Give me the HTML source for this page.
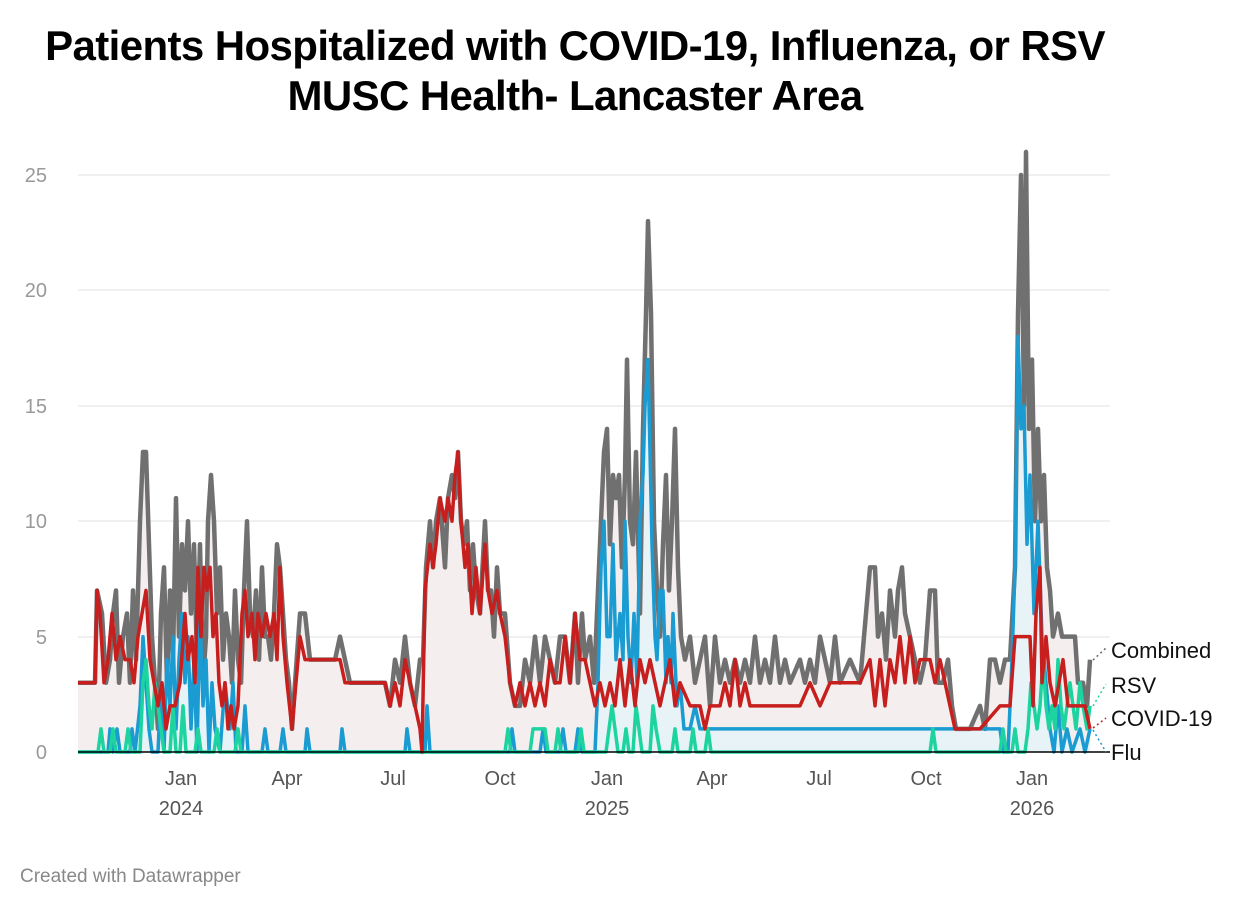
<!DOCTYPE html>
<html><head><meta charset="utf-8"><style>
body{margin:0;background:#fff;width:1240px;height:908px;overflow:hidden;font-family:"Liberation Sans",sans-serif}
.t{position:absolute;left:0;width:1150px;text-align:center;font-weight:bold;font-size:42px;color:#000;letter-spacing:-0.6px;white-space:nowrap}
</style></head><body>
<div class="t" style="top:22px">Patients Hospitalized with COVID-19, Influenza, or RSV</div>
<div class="t" style="top:72px">MUSC Health- Lancaster Area</div>
<svg id="s" width="1240" height="908" style="position:absolute;left:0;top:0" font-family="Liberation Sans, sans-serif">
<g stroke="#e2e2e2" stroke-width="1">
<line x1="78" x2="1110" y1="637" y2="637"/><line x1="78" x2="1110" y1="521" y2="521"/>
<line x1="78" x2="1110" y1="406" y2="406"/><line x1="78" x2="1110" y1="290" y2="290"/><line x1="78" x2="1110" y1="175" y2="175"/>
</g>
<g fill="#999" font-size="20" text-anchor="end">
<text x="47" y="759">0</text><text x="47" y="644">5</text><text x="47" y="528">10</text><text x="47" y="413">15</text><text x="47" y="297">20</text><text x="47" y="182">25</text>
</g>
<g fill="#555" font-size="20" text-anchor="middle">
<text x="181" y="785">Jan</text><text x="181" y="815">2024</text><text x="287" y="785">Apr</text><text x="393" y="785">Jul</text><text x="500" y="785">Oct</text>
<text x="607" y="785">Jan</text><text x="607" y="815">2025</text><text x="712" y="785">Apr</text><text x="819" y="785">Jul</text><text x="926" y="785">Oct</text>
<text x="1032" y="785">Jan</text><text x="1032" y="815">2026</text>
</g>
<g id="d"></g>
<line x1="78" x2="1110" y1="752" y2="752" stroke="#000" stroke-width="1.5"/>
<g font-size="22" fill="#111">
<text x="1111" y="658">Combined</text><text x="1111" y="693">RSV</text><text x="1111" y="726">COVID-19</text><text x="1111" y="760">Flu</text>
</g>
<g stroke-width="1.5" stroke-dasharray="2,3">
<line x1="1093" y1="660" x2="1106" y2="648" stroke="#666"/>
<line x1="1093" y1="706" x2="1106" y2="684" stroke="#1dd3a0"/>
<line x1="1093" y1="728" x2="1106" y2="718" stroke="#c71e1e"/>
<line x1="1093" y1="730" x2="1106" y2="752" stroke="#1a9bd1"/>
</g>
<text x="20" y="882" font-size="19" fill="#888">Created with Datawrapper</text>
</svg>
<script>
function Y(v){return 752-v*23.08}
function pts(a){var o=[];for(var i=0;i<a.length;i+=2){o.push(a[i]+','+Y(a[i+1]));}return o.join(' ');}
var C=[78,3,95,3,97,7,102,6,106,3,110,4,113,6,116,7,119,3,123,5,127,6,130,3,133,7,136,4,140,10,143,13,146,13,149,9,152,5,155,3,158,1,161,6,164,8,167,3,170,7,173,4,176,11,179,5,182,9,185,7,188,10,191,6,194,9,197,4,200,9,203,3,206,5,208,10,211,12,214,10,217,6,220,8,223,4,226,6,229,5,232,3,235,7,238,4,241,3,244,7,247,10,250,6,253,5,256,7,259,4,262,8,265,5,268,5,271,4,274,6,277,9,280,8,283,6,286,4,289,3,292,1,295,3,300,6,305,6,310,4,320,4,330,4,335,4,340,5,345,4,350,3,380,3,385,3,390,2,395,4,400,3,405,5,410,3,415,2,420,4,423,4,426,8,430,10,433,8,436,10,440,11,445,8,448,11,452,12,455,11,458,13,461,10,464,9,467,10,470,7,473,9,476,7,480,6,485,10,488,7,491,7,494,5,497,8,500,6,505,6,510,3,515,2,520,2,525,4,530,3,535,5,540,3,545,5,550,4,555,3,560,5,565,5,570,3,575,6,578,3,582,6,585,4,590,5,594,3,598,7,601,10,604,13,607,14,610,9,613,12,616,11,619,12,622,8,625,12,627,17,630,10,633,9,636,13,640,6,643,14,646,19,648,23,651,19,654,10,657,7,660,5,663,9,666,12,669,7,672,10,675,14,678,8,681,5,685,4,690,5,695,3,700,4,705,5,710,2,715,5,720,3,725,4,730,3,735,4,740,3,745,4,750,3,755,5,760,3,765,4,770,3,775,5,780,3,785,4,790,3,800,4,805,3,810,4,815,3,820,5,825,4,830,3,835,5,840,3,850,4,860,3,870,8,875,8,878,5,882,6,886,4,890,7,895,5,898,7,902,8,905,6,910,5,915,4,920,3,925,4,930,7,935,7,938,3,943,3,948,4,952,2,956,1,960,1,970,1,980,2,985,1,990,4,995,4,1000,3,1005,4,1010,4,1015,8,1018,19,1021,25,1024,15,1026,26,1029,14,1032,17,1035,10,1038,14,1041,10,1044,12,1047,8,1050,7,1053,5,1058,6,1062,5,1068,5,1075,5,1078,3,1083,3,1087,2,1090,4];
var R=[78,3,95,3,97,7,100,6,104,3,108,4,112,6,116,4,120,5,125,4,130,4,134,3,138,5,142,6,146,7,150,4,154,3,158,2,162,3,166,1,170,2,175,2,180,3,185,6,188,4,192,5,195,3,198,8,201,5,204,8,207,7,210,8,213,5,216,6,219,3,222,2,225,3,228,1,231,2,234,1,238,2,242,6,245,7,248,5,252,6,255,4,258,6,262,5,266,6,270,5,274,6,277,4,280,8,283,5,287,3,292,1,296,3,300,5,305,4,310,4,320,4,335,4,340,4,345,3,380,3,385,3,390,2,395,3,400,2,405,4,410,3,415,2,420,1,422,0,425,7,430,9,433,8,436,9,440,11,445,10,448,11,452,10,455,12,458,13,461,10,465,8,468,9,472,6,476,8,480,6,485,9,488,7,492,6,497,7,500,6,505,5,510,3,515,2,520,3,525,2,530,3,535,2,540,3,545,2,550,4,555,3,560,3,565,5,570,3,575,6,580,4,585,4,590,3,595,2,600,3,605,2,610,3,615,2,620,4,625,2,630,4,635,2,640,4,645,3,650,4,655,3,660,2,665,3,670,4,675,2,680,3,690,2,700,2,705,1,710,2,720,2,725,3,730,2,735,4,740,2,745,3,750,2,760,2,800,2,810,3,820,2,830,3,860,3,870,4,875,2,880,4,885,2,890,4,895,3,900,5,905,3,910,5,915,3,920,4,930,4,935,3,940,4,945,3,950,2,955,1,980,1,1000,2,1010,2,1015,5,1030,5,1033,2,1036,6,1040,8,1042,3,1046,5,1050,3,1055,2,1063,4,1068,2,1075,2,1085,2,1090,1];
var F=[78,0,108,0,110,1,113,0,117,1,120,0,130,0,132,1,135,0,140,2,143,5,146,3,149,1,152,0,158,0,161,3,164,0,167,4,170,2,173,5,176,1,179,4,182,6,185,3,188,5,191,1,194,4,197,0,200,6,203,2,206,4,209,0,212,3,215,1,220,0,225,3,230,1,233,3,236,0,242,0,245,2,248,0,262,0,265,1,268,0,280,0,283,1,286,0,305,0,307,1,310,0,340,0,342,1,345,0,405,0,407,1,410,0,425,0,427,2,430,0,510,0,512,1,515,0,540,0,543,1,546,0,560,0,563,1,566,0,575,0,578,1,582,0,595,0,598,3,601,8,604,10,607,5,610,5,613,9,616,4,620,6,623,4,625,10,628,5,631,3,634,6,637,3,640,10,643,12,645,15,648,17,652,9,655,5,657,4,660,7,663,7,666,3,668,5,671,3,673,6,677,2,680,3,684,1,690,1,695,2,700,1,1000,1,1003,0,1008,0,1012,4,1015,8,1018,18,1021,14,1024,15,1027,9,1030,12,1034,6,1038,10,1042,5,1046,3,1050,1,1054,0,1058,2,1062,0,1067,1,1072,0,1080,1,1085,0,1090,1];
var G=[78,0,98,0,101,1,104,0,110,0,113,1,116,0,125,0,128,1,131,0,140,0,143,3,146,4,149,2,152,1,155,3,158,2,161,1,164,0,170,0,173,2,176,0,180,0,183,2,186,0,195,0,198,1,201,0,214,0,217,1,220,0,235,0,238,1,241,0,505,0,508,1,511,0,530,0,533,1,545,1,548,0,555,0,558,1,561,0,578,0,581,1,584,0,606,0,609,1,612,2,615,1,618,0,623,0,626,1,629,0,633,0,636,2,639,1,642,0,650,0,653,2,656,1,660,0,672,0,675,1,678,0,690,0,693,1,696,0,705,0,708,1,711,0,930,0,933,1,936,0,1000,0,1003,1,1006,0,1012,0,1015,1,1018,0,1025,0,1028,1,1031,3,1034,2,1037,1,1040,2,1043,4,1046,2,1049,1,1052,2,1055,1,1058,4,1061,2,1064,1,1067,2,1070,3,1073,2,1076,1,1080,3,1083,2,1087,1,1090,2];
var d=document.getElementById('d'),ns='http://www.w3.org/2000/svg';
function add(tag,attrs){var e=document.createElementNS(ns,tag);for(var k in attrs)e.setAttribute(k,attrs[k]);d.appendChild(e);}
add('polygon',{points:'78,752 '+pts(C)+' 1090,752',fill:'#f5eeee'});
add('polygon',{points:'78,752 '+pts(F)+' 1090,752',fill:'#e8f3f7'});
add('polyline',{points:pts(C),fill:'none',stroke:'#707070','stroke-width':4.5,'stroke-linejoin':'round'});
add('polyline',{points:pts(F),fill:'none',stroke:'#1a9bd1','stroke-width':3.5,'stroke-linejoin':'round'});
add('polyline',{points:pts(G),fill:'none',stroke:'#1dd3a0','stroke-width':3.5,'stroke-linejoin':'round'});
add('polyline',{points:pts(R),fill:'none',stroke:'#c71e1e','stroke-width':3.5,'stroke-linejoin':'round'});
</script>
</body></html>
